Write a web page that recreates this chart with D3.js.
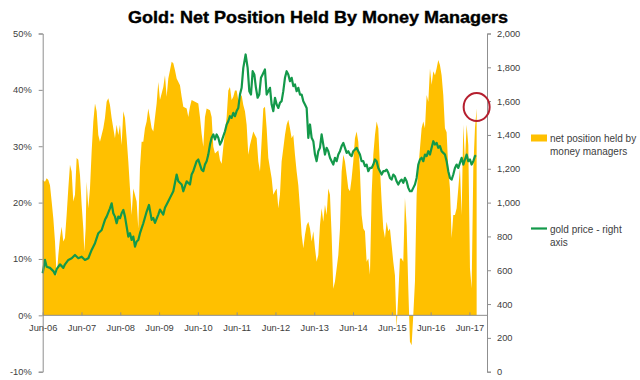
<!DOCTYPE html>
<html><head><meta charset="utf-8">
<script src="https://cdn.jsdelivr.net/npm/d3@7/dist/d3.min.js"></script>
<style>body{margin:0;background:#fff}svg{display:block}</style>
</head><body>
<svg id="c" width="640" height="380"></svg>
<script>
const title = "Gold: Net Position Held By Money Managers";
const seriesNames = ["net position held by money managers", "gold price - right axis"];
const xTickYears = [2006.417,2007.417,2008.417,2009.417,2010.417,2011.417,2012.417,2013.417,2014.417,2015.417,2016.417,2017.417];
const xTickLabels = ["Jun-06","Jun-07","Jun-08","Jun-09","Jun-10","Jun-11","Jun-12","Jun-13","Jun-14","Jun-15","Jun-16","Jun-17"];
const leftTicks = [-10,0,10,20,30,40,50];
const rightTicks = [0,200,400,600,800,1000,1200,1400,1600,1800,2000];

const netDates = [2006.416,2006.476,2006.519,2006.562,2006.605,2006.648,2006.691,2006.734,2006.777,2006.820,2006.863,2006.905,2006.948,2006.991,2007.034,2007.077,2007.120,2007.163,2007.206,2007.249,2007.292,2007.335,2007.378,2007.421,2007.464,2007.490,2007.524,2007.550,2007.593,2007.636,2007.679,2007.722,2007.765,2007.808,2007.850,2007.893,2007.936,2007.979,2008.022,2008.065,2008.108,2008.151,2008.194,2008.237,2008.280,2008.323,2008.366,2008.409,2008.452,2008.495,2008.538,2008.581,2008.624,2008.667,2008.710,2008.752,2008.795,2008.838,2008.881,2008.924,2008.967,2009.010,2009.053,2009.096,2009.139,2009.182,2009.225,2009.268,2009.354,2009.397,2009.440,2009.526,2009.569,2009.612,2009.655,2009.698,2009.741,2009.784,2009.827,2009.870,2009.956,2009.999,2010.042,2010.128,2010.170,2010.213,2010.256,2010.342,2010.428,2010.471,2010.514,2010.557,2010.600,2010.643,2010.729,2010.772,2010.815,2010.858,2010.944,2010.987,2011.030,2011.073,2011.159,2011.202,2011.244,2011.287,2011.330,2011.373,2011.416,2011.459,2011.502,2011.545,2011.588,2011.631,2011.674,2011.717,2011.760,2011.803,2011.846,2011.889,2011.932,2011.975,2012.018,2012.061,2012.104,2012.147,2012.190,2012.233,2012.276,2012.319,2012.362,2012.405,2012.448,2012.491,2012.533,2012.576,2012.619,2012.662,2012.705,2012.748,2012.791,2012.834,2012.877,2012.920,2012.963,2013.006,2013.049,2013.092,2013.135,2013.178,2013.221,2013.264,2013.307,2013.350,2013.393,2013.436,2013.478,2013.521,2013.564,2013.607,2013.650,2013.693,2013.736,2013.779,2013.822,2013.865,2013.908,2013.951,2013.994,2014.037,2014.080,2014.123,2014.166,2014.209,2014.252,2014.295,2014.338,2014.381,2014.423,2014.466,2014.509,2014.552,2014.595,2014.638,2014.681,2014.724,2014.767,2014.810,2014.853,2014.896,2014.939,2014.982,2015.025,2015.068,2015.111,2015.154,2015.197,2015.240,2015.283,2015.326,2015.368,2015.411,2015.454,2015.497,2015.540,2015.583,2015.626,2015.669,2015.712,2015.755,2015.798,2015.841,2015.884,2015.927,2015.970,2016.013,2016.056,2016.099,2016.142,2016.185,2016.228,2016.271,2016.314,2016.357,2016.400,2016.443,2016.486,2016.529,2016.571,2016.614,2016.657,2016.700,2016.743,2016.786,2016.829,2016.872,2016.915,2016.958,2017.001,2017.044,2017.087,2017.130,2017.173,2017.216,2017.259,2017.302,2017.345,2017.388,2017.431,2017.474,2017.517,2017.560,2017.603];
const netValues = [24.0,23.7,24.3,24.0,23.1,20.2,17.2,13.1,6.9,10.7,13.7,15.7,13.1,13.7,17.8,22.5,26.7,25.5,20.2,21.4,27.9,27.6,24.9,19.6,15.4,11.3,15.4,23.7,19.0,22.5,29.1,34.4,37.6,36.2,32.0,30.8,32.0,33.2,35.0,37.9,38.5,37.3,35.0,33.2,31.4,33.8,32.0,33.8,30.2,36.2,35.0,31.4,27.3,22.5,17.8,22.5,21.4,20.2,15.4,26.1,30.8,30.8,33.2,34.4,36.7,35.0,33.2,32.6,37.6,41.4,38.2,40.5,42.6,38.8,42.0,43.5,45.0,44.7,43.5,42.0,40.8,38.8,37.0,36.7,35.2,37.0,38.2,37.9,37.6,35.2,32.2,29.9,35.2,36.7,36.4,35.2,29.9,28.7,29.3,27.5,26.9,29.9,35.2,39.9,40.5,38.2,38.8,39.9,39.9,38.2,38.5,39.1,37.3,36.2,33.8,28.5,30.2,31.4,32.6,32.0,31.4,27.3,25.5,31.0,36.7,37.0,33.2,27.9,26.1,24.3,21.4,22.0,22.5,19.0,21.4,27.3,29.6,32.0,33.8,34.7,33.2,31.4,32.0,28.5,25.5,23.1,19.0,14.3,11.9,14.3,16.0,16.6,15.4,13.1,14.9,11.9,9.5,10.7,16.0,19.0,16.6,19.6,17.8,22.5,21.4,14.3,4.7,6.0,8.3,10.7,15.4,25.5,28.5,27.3,24.9,22.5,22.0,24.3,27.3,31.4,32.6,30.8,25.5,17.8,15.4,14.9,9.5,10.1,7.2,21.4,28.5,32.0,34.4,33.2,26.1,20.2,15.4,13.7,16.6,14.9,15.4,12.5,9.5,7.1,-2.3,3.6,10.1,10.1,9.5,20.8,16.0,4.8,-4.7,-5.3,0.1,6.0,21.4,26.1,29.6,33.2,34.4,33.2,39.1,37.9,43.8,40.9,43.3,42.6,43.8,45.3,44.4,42.6,39.1,33.2,32.5,26.1,22.5,13.7,17.8,17.8,19.0,22.5,26.1,17.8,33.8,27.3,33.8,30.2,8.3,4.8,26.1,33.2,36.7];

const goldDates = [2006.416,2006.476,2006.519,2006.605,2006.691,2006.734,2006.777,2006.863,2006.949,2006.992,2007.078,2007.164,2007.249,2007.335,2007.421,2007.507,2007.593,2007.679,2007.765,2007.851,2007.937,2008.022,2008.066,2008.151,2008.194,2008.237,2008.280,2008.323,2008.366,2008.409,2008.452,2008.495,2008.538,2008.581,2008.624,2008.667,2008.710,2008.753,2008.796,2008.839,2008.882,2008.925,2009.011,2009.097,2009.157,2009.226,2009.269,2009.311,2009.397,2009.440,2009.526,2009.569,2009.655,2009.698,2009.784,2009.870,2009.913,2009.999,2010.042,2010.085,2010.128,2010.213,2010.256,2010.299,2010.385,2010.428,2010.471,2010.514,2010.557,2010.600,2010.643,2010.686,2010.729,2010.772,2010.815,2010.858,2010.901,2010.944,2010.987,2011.030,2011.073,2011.116,2011.159,2011.201,2011.244,2011.287,2011.330,2011.373,2011.416,2011.459,2011.502,2011.545,2011.588,2011.648,2011.700,2011.743,2011.786,2011.829,2011.872,2011.914,2011.957,2012.000,2012.043,2012.086,2012.146,2012.190,2012.233,2012.276,2012.319,2012.362,2012.405,2012.448,2012.491,2012.533,2012.576,2012.619,2012.662,2012.705,2012.748,2012.791,2012.834,2012.877,2012.920,2012.963,2013.006,2013.049,2013.092,2013.135,2013.178,2013.221,2013.264,2013.307,2013.350,2013.393,2013.436,2013.478,2013.521,2013.564,2013.607,2013.650,2013.693,2013.736,2013.779,2013.822,2013.865,2013.908,2013.951,2013.994,2014.037,2014.080,2014.123,2014.166,2014.209,2014.252,2014.295,2014.338,2014.381,2014.423,2014.466,2014.509,2014.552,2014.595,2014.638,2014.681,2014.724,2014.767,2014.810,2014.853,2014.896,2014.939,2014.982,2015.025,2015.068,2015.111,2015.154,2015.197,2015.240,2015.283,2015.326,2015.368,2015.411,2015.454,2015.497,2015.540,2015.583,2015.626,2015.669,2015.712,2015.755,2015.798,2015.841,2015.884,2015.927,2015.970,2016.013,2016.056,2016.099,2016.142,2016.185,2016.228,2016.271,2016.314,2016.357,2016.400,2016.443,2016.486,2016.529,2016.571,2016.614,2016.657,2016.700,2016.743,2016.786,2016.829,2016.872,2016.915,2016.958,2017.001,2017.044,2017.087,2017.130,2017.173,2017.216,2017.259,2017.302,2017.345,2017.388,2017.431,2017.474,2017.517,2017.560,2017.585];
const goldValues = [582,661,621,614,595,576,606,635,614,635,661,671,690,671,680,661,671,720,760,819,838,898,917,966,996,937,917,878,917,907,937,957,917,858,799,819,779,799,740,770,779,819,878,947,986,898,909,880,929,959,929,969,1008,1028,1067,1166,1126,1107,1067,1097,1126,1107,1166,1186,1245,1255,1225,1195,1186,1225,1245,1284,1343,1383,1403,1373,1403,1383,1343,1363,1393,1422,1462,1481,1511,1501,1531,1511,1541,1560,1639,1679,1797,1876,1797,1659,1639,1777,1758,1679,1620,1639,1738,1758,1787,1639,1659,1679,1580,1541,1620,1580,1560,1590,1600,1659,1738,1777,1758,1718,1738,1689,1699,1659,1679,1639,1639,1600,1580,1560,1383,1462,1383,1363,1284,1245,1304,1324,1403,1343,1284,1324,1304,1265,1245,1225,1265,1245,1284,1304,1334,1353,1324,1294,1304,1284,1275,1304,1314,1324,1304,1284,1245,1245,1215,1225,1186,1205,1205,1225,1255,1245,1205,1186,1166,1186,1186,1195,1176,1146,1136,1166,1156,1126,1107,1126,1136,1117,1146,1126,1087,1067,1067,1087,1107,1146,1225,1255,1265,1245,1284,1275,1304,1284,1324,1363,1343,1353,1324,1334,1304,1294,1284,1245,1186,1146,1136,1166,1205,1225,1205,1235,1265,1225,1255,1284,1245,1255,1225,1245,1275,1280];

const svg = d3.select("#c");
const plotLeft = 42.7, plotRight = 487, plotTop = 33.5, plotBottom = 371.7;
const x = d3.scaleLinear().domain([2006.417, 2017.87]).range([plotLeft, plotRight]);
const yL = d3.scaleLinear().domain([-10, 50]).range([plotBottom, plotTop]);
const yR = d3.scaleLinear().domain([0, 2000]).range([plotBottom, plotTop]);

const YELLOW = "#FFC000", GREEN = "#13994a", AXIS = "#8f8f8f", TXT = "#404040";
const FONT = "'Liberation Sans', Arial, sans-serif";

const net = netDates.map((d, i) => [d, netValues[i]]);
const gold = goldDates.map((d, i) => [d, goldValues[i]]);

svg.append("path").datum(net)
  .attr("fill", YELLOW)
  .attr("d", d3.area().x(d => x(d[0])).y0(yL(0)).y1(d => yL(d[1])));

svg.append("path").datum(gold)
  .attr("fill", "none").attr("stroke", GREEN).attr("stroke-width", 2.2)
  .attr("stroke-linejoin", "round")
  .attr("d", d3.line().x(d => x(d[0])).y(d => yR(d[1])));

const gl = svg.append("g").attr("transform", `translate(${plotLeft},0)`)
  .call(d3.axisLeft(yL).tickValues(leftTicks).tickSize(4).tickPadding(7).tickFormat(d => d + "%"));
const gr = svg.append("g").attr("transform", `translate(${plotRight},0)`)
  .call(d3.axisRight(yR).tickValues(rightTicks).tickSize(4).tickPadding(6).tickFormat(d3.format(",")));
const gx = svg.append("g").attr("transform", `translate(0,${yL(0)})`)
  .call(d3.axisBottom(x).tickValues(xTickYears).tickSize(-3).tickPadding(9)
    .tickFormat((d, i) => xTickLabels[i]));
gx.select(".domain").attr("d", `M${plotLeft},0H${plotRight}`);

[gl, gr, gx].forEach(g => {
  g.select(".domain").attr("stroke", AXIS);
  g.selectAll(".tick line").attr("stroke", AXIS);
  g.selectAll("text").attr("fill", TXT).attr("font-family", FONT).attr("font-size", 9.3);
});

const last = net[net.length - 1];
svg.append("ellipse")
  .attr("cx", x(last[0])).attr("cy", yL(last[1]) - 1.5)
  .attr("rx", 13).attr("ry", 14)
  .attr("fill", "none").attr("stroke", "#b51e2e").attr("stroke-width", 2);

svg.append("text").attr("x", 318).attr("y", 22.5).attr("text-anchor", "middle")
  .attr("font-family", FONT).attr("font-weight", "bold").attr("font-size", 17)
  .attr("textLength", 380).attr("lengthAdjust", "spacingAndGlyphs")
  .attr("stroke", "#000").attr("stroke-width", 0.4)
  .attr("fill", "#000").text(title);

const lg = svg.append("g").attr("font-family", FONT).attr("font-size", 10).attr("fill", TXT);
lg.append("rect").attr("x", 531).attr("y", 134.5).attr("width", 16).attr("height", 7).attr("fill", YELLOW);
lg.append("text").attr("x", 550).attr("y", 142).text("net position held by");
lg.append("text").attr("x", 550).attr("y", 154.5).text("money managers");
lg.append("line").attr("x1", 531).attr("x2", 547).attr("y1", 228.5).attr("y2", 228.5)
  .attr("stroke", GREEN).attr("stroke-width", 2.2);
lg.append("text").attr("x", 550).attr("y", 232.5).text("gold price - right");
lg.append("text").attr("x", 550).attr("y", 245.5).text("axis");
</script>
</body></html>
